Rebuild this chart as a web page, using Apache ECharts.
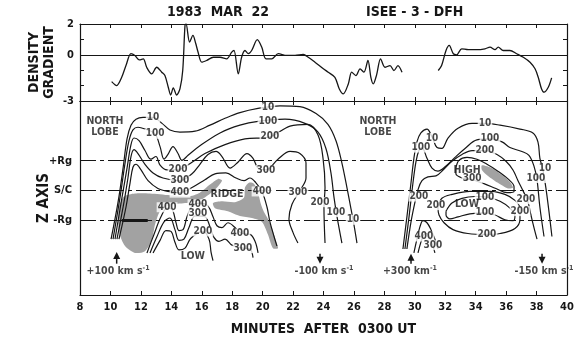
<!DOCTYPE html>
<html>
<head>
<meta charset="utf-8">
<script src="https://cdn.jsdelivr.net/npm/echarts@6/dist/echarts.min.js"></script>
<style>
  html, body { margin: 0; background: #fff; }
  #chart { width: 580px; height: 341px; }
</style>
</head>
<body>
<div id="chart"></div>
<script>
const F = "'DejaVu Sans Condensed','Liberation Sans Narrow','Roboto Condensed','DejaVu Sans',sans-serif";
const INK = '#161616';

// density gradient, two passes through the sheet  [minutes, gradient]
const gradPass1 = [
  [10.08,-1.74],[10.41,-2.00],[10.74,-1.46],[11.02,-0.70],[11.35,0.07],[11.61,-0.05],[11.90,-0.33],
  [12.16,-0.26],[12.38,-0.81],[12.71,-1.24],[13.04,-0.81],[13.37,-1.13],[13.58,-1.35],[13.80,-2.11],
  [13.96,-2.61],[14.13,-2.15],[14.35,-2.61],[14.57,-2.20],[14.75,-1.02],[14.90,1.91],[14.97,2.00],
  [15.20,0.82],[15.42,1.26],[15.60,0.75],[15.75,0.20],[16.00,-0.48],[16.32,-0.37],[16.76,-0.16],
  [17.20,-0.16],[17.64,-0.26],[17.97,0.17],[18.12,0.28],[18.40,-1.24],[18.62,-0.16],[18.84,0.28],
  [19.06,0.07],[19.28,0.28],[19.65,0.98],[19.94,0.50],[20.22,-0.26],[20.60,-0.26],[21.03,0.07],
  [21.58,-0.04],[22.13,-0.04],[22.67,0.02],[23.00,-0.16],[23.44,-0.48],[23.99,-0.91],[24.31,-1.13],
  [24.75,-1.46],[25.04,-2.22],[25.30,-2.54],[25.63,-1.89],[25.85,-1.13],[26.13,-1.35],[26.40,-0.91],
  [26.66,-1.13],[26.92,-0.37],[27.12,-1.50],[27.27,-1.89],[27.49,-1.30],[27.75,-0.26],[28.04,-0.81],
  [28.37,-0.70],[28.63,-1.02],[28.89,-0.70],[29.16,-1.13]
];
const gradPass2 = [
  [31.54,-1.02],[31.76,-0.70],[32.05,0.28],[32.26,0.61],[32.53,0.07],[32.75,0.00],[33.08,0.39],
  [33.51,0.33],[34.06,0.33],[34.61,0.39],[34.94,0.50],[35.27,0.33],[35.48,0.50],[35.81,0.28],
  [36.25,0.28],[36.69,0.07],[37.13,-0.16],[37.57,-0.48],[37.90,-0.91],[38.11,-1.46],[38.33,-2.22],
  [38.49,-2.43],[38.77,-2.11],[38.99,-1.50]
];

// Z axis reference levels in Rg
const zLevels = [1, 0, -1];
const zNames = { '1': '+Rg', '0': 'S/C', '-1': '-Rg' };
const gradLabels = [2, 0, -3];

// contours of the first crossing  [minutes, z (Rg)]
const c10a = [[10.04,-1.63],[10.50,-0.39],[10.83,0.75],[11.09,1.73],[11.35,2.19],[11.68,2.39],[12.14,2.45],[12.80,2.45],[13.39,2.25],[13.91,2.03],[14.57,1.96],[15.56,1.99],[16.54,2.19],[17.53,2.42],[18.51,2.61],[19.70,2.75],[21.14,2.84],[22.45,2.81],[23.51,2.58],[24.29,2.22],[24.82,1.67],[25.21,0.92],[25.54,0.10],[25.81,-0.62],[26.00,-1.14],[26.20,-1.76]];
const c100a = [[10.17,-1.63],[10.63,-0.23],[10.96,0.92],[11.22,1.67],[11.48,2.03],[11.81,2.12],[12.27,2.06],[12.93,1.90],[13.26,1.47],[13.52,1.05],[13.78,1.21],[14.11,1.47],[14.44,1.24],[14.70,1.01],[15.10,1.18],[15.88,1.50],[17.20,1.93],[18.51,2.19],[19.70,2.32],[21.47,2.39],[22.78,2.25],[23.64,1.96],[24.16,1.41],[24.49,0.59],[24.69,-0.23],[24.89,-0.88],[25.21,-1.76]];
const c200a = [[10.30,-1.63],[10.76,-0.23],[11.09,0.75],[11.35,1.54],[11.55,1.76],[11.88,1.67],[12.27,1.34],[12.66,1.05],[12.99,1.14],[13.26,0.85],[13.72,0.69],[14.57,0.72],[15.36,0.95],[16.21,1.24],[17.53,1.54],[18.84,1.73],[20.48,1.80],[21.80,2.16],[22.98,2.22],[23.64,1.86],[23.97,1.08],[24.10,0.10],[24.03,-0.56],[24.10,-1.76]];
const c300a = [[10.43,-1.63],[10.89,-0.39],[11.15,0.42],[11.35,1.14],[11.55,1.37],[11.81,1.24],[12.27,0.88],[12.80,0.59],[13.45,0.42],[14.57,0.33],[15.36,0.56],[15.88,0.88],[16.41,1.21],[16.94,1.31],[17.33,1.14],[17.86,0.75],[18.38,0.95],[18.97,1.24],[19.37,1.08],[19.70,0.75],[20.22,0.69],[21.01,1.05],[21.80,1.31],[22.45,1.24],[22.85,0.92],[22.85,0.42],[22.45,0.00],[21.93,-0.46],[21.73,-0.95],[22.00,-1.41],[22.32,-1.76]];
const c400a = [[10.56,-1.63],[11.02,-0.56],[11.29,0.26],[11.48,0.78],[11.68,0.88],[12.01,0.69],[12.47,0.33],[13.12,0.07],[13.78,-0.03],[14.57,-0.07],[15.36,0.10],[16.21,0.36],[16.87,0.56],[17.59,0.59],[18.25,0.42],[18.78,0.33],[19.17,0.42],[19.56,0.26],[19.96,-0.03],[20.29,-0.56],[20.48,-1.05],[20.75,-1.54],[20.94,-1.86]];
const c400low = [[12.40,-2.09],[12.86,-1.47],[13.32,-0.88],[13.72,-0.59],[14.04,-0.62],[14.31,-1.08],[14.50,-1.34],[14.77,-1.31],[15.03,-0.88],[15.36,-0.52],[15.88,-0.42],[16.41,-0.52],[16.74,-0.88],[17.00,-1.18],[17.33,-1.24],[17.72,-1.08],[18.25,-1.27],[18.64,-1.44],[19.17,-1.47],[19.50,-1.70],[19.70,-2.09]];
const c300low = [[12.60,-2.09],[13.06,-1.54],[13.52,-1.05],[13.91,-0.92],[14.24,-1.31],[14.50,-1.67],[14.83,-1.63],[15.16,-1.24],[15.56,-0.85],[16.21,-0.88],[16.54,-1.21],[16.80,-1.57],[17.13,-1.70],[17.53,-1.63],[17.99,-1.83],[18.71,-1.93],[19.17,-1.96],[19.37,-2.25]];
const c200low = [[12.80,-2.09],[13.26,-1.67],[13.65,-1.34],[13.98,-1.37],[14.24,-1.73],[14.50,-1.99],[14.90,-1.93],[15.29,-1.60],[16.08,-1.37],[16.48,-1.63],[16.61,-2.06],[16.74,-2.35]];
const rgBar = [[10.75,-1.0],[12.45,-1.0]];

// contours of the second crossing
const c10b = [[29.22,-1.96],[29.48,-0.88],[29.75,0.26],[29.94,1.08],[30.14,1.63],[30.40,1.93],[30.80,2.06],[31.13,1.80],[31.46,1.44],[31.78,1.41],[32.18,1.76],[32.84,2.09],[33.76,2.25],[34.61,2.25],[35.60,2.19],[36.91,2.06],[37.76,1.93],[38.09,1.63],[38.22,1.08],[38.42,0.69],[38.68,-0.16],[39.01,-1.54]];
const c100b = [[29.35,-1.96],[29.62,-0.88],[29.88,0.26],[30.08,0.98],[30.27,1.34],[30.47,1.44],[30.80,1.08],[31.13,0.75],[31.52,0.65],[32.05,0.82],[32.64,1.11],[33.30,1.41],[34.08,1.70],[34.94,1.73],[35.73,1.63],[36.25,1.44],[37.04,1.31],[37.50,1.18],[37.83,0.82],[38.03,0.36],[38.22,-0.56],[38.49,-1.54]];
const c200b = [[29.48,-1.96],[29.75,-1.05],[30.01,-0.39],[30.21,0.03],[30.47,0.33],[30.86,0.46],[31.39,0.49],[31.92,0.72],[32.44,0.98],[33.10,1.21],[33.76,1.34],[34.61,1.34],[35.40,1.21],[35.99,0.98],[36.45,0.69],[36.78,0.33],[37.17,-0.07],[37.44,-0.39],[37.63,-0.82],[37.83,-1.24],[38.03,-1.63]];
const c300high = [[32.70,0.75],[32.90,1.01],[33.43,1.11],[34.08,1.05],[34.74,0.88],[35.46,0.65],[36.12,0.39],[36.52,0.13],[36.52,-0.03],[36.06,-0.07],[35.33,0.07],[34.54,0.23],[33.76,0.36],[33.10,0.42],[32.70,0.56],[32.70,0.75]];
const c200lowB = [[31.52,-0.56],[31.78,-0.26],[32.44,-0.13],[33.62,-0.03],[34.94,-0.03],[35.92,-0.13],[36.58,-0.33],[36.91,-0.59],[36.91,-0.95],[36.58,-1.27],[35.60,-1.44],[34.74,-1.47],[33.49,-1.44],[32.51,-1.31],[31.92,-1.08],[31.59,-0.82],[31.52,-0.56]];
const c100lowB = [[32.05,-0.69],[32.44,-0.42],[33.10,-0.26],[33.95,-0.20],[34.81,-0.23],[35.60,-0.36],[36.25,-0.59],[36.58,-0.85],[36.45,-1.01],[35.92,-0.98],[35.27,-0.82],[34.61,-0.75],[33.62,-0.78],[32.84,-0.88],[32.31,-0.95],[32.05,-0.82],[32.05,-0.69]];
const hump1 = [[29.94,-2.09],[30.14,-1.63],[30.34,-1.21],[30.54,-1.01],[30.80,-1.08],[31.06,-1.31],[31.32,-1.63],[31.52,-1.96]];
const hump2 = [[30.21,-2.09],[30.40,-1.73],[30.60,-1.47],[30.80,-1.44],[30.99,-1.60],[31.19,-1.86],[31.32,-2.09]];

// stippled regions
const shadeLobe = [[10.56,-0.56],[10.89,-0.20],[11.61,-0.10],[12.60,-0.10],[13.91,-0.16],[15.10,-0.20],[15.88,-0.07],[16.54,0.20],[17.07,0.39],[17.33,0.33],[16.80,0.00],[15.88,-0.33],[14.90,-0.42],[13.91,-0.49],[13.26,-0.69],[12.93,-1.14],[12.73,-1.63],[12.27,-2.03],[11.61,-2.09],[10.96,-1.86],[10.56,-1.37]];
const shadeRidge = [[16.74,-0.42],[17.33,-0.36],[18.18,-0.39],[18.78,-0.23],[18.84,0.10],[19.10,0.26],[19.43,0.23],[19.70,-0.07],[19.89,-0.46],[20.09,-0.72],[20.35,-0.95],[20.62,-1.27],[20.88,-1.70],[21.01,-1.93],[20.68,-1.93],[20.35,-1.47],[19.96,-1.05],[19.30,-0.92],[18.51,-0.85],[17.72,-0.69],[16.87,-0.59]];
const shadeHigh = [[34.41,0.85],[35.07,0.75],[35.73,0.52],[36.25,0.29],[36.45,0.10],[36.12,0.07],[35.46,0.26],[34.81,0.49],[34.41,0.69]];

// contour value labels [minutes, z, text]
const contourLabels = [
  [12.80,2.45,'10'],[20.35,2.78,'10'],[25.94,-0.98,'10'],
  [12.93,1.90,'100'],[20.35,2.32,'100'],[24.82,-0.72,'100'],
  [14.44,0.72,'200'],[20.48,1.80,'200'],[23.77,-0.39,'200'],
  [14.57,0.33,'300'],[20.22,0.69,'300'],[22.32,-0.07,'300'],
  [14.57,-0.07,'400'],[19.96,-0.03,'400'],
  [13.72,-0.56,'400'],[15.75,-0.46,'400'],[15.75,-0.78,'300'],[16.08,-1.37,'200'],[18.51,-1.44,'400'],[18.71,-1.93,'300'],
  [31.13,1.76,'10'],[34.61,2.25,'10'],[38.55,0.75,'10'],
  [30.40,1.44,'100'],[34.94,1.73,'100'],[37.96,0.42,'100'],
  [30.27,-0.20,'200'],[34.61,1.34,'200'],[37.30,-0.29,'200'],
  [33.76,0.39,'300'],
  [31.39,-0.49,'200'],[36.91,-0.69,'200'],[34.74,-1.47,'200'],
  [34.61,-0.23,'100'],[34.61,-0.72,'100'],
  [30.60,-1.54,'400'],[31.19,-1.83,'300']
];
const regionNames = [
  [9.64,2.12,'NORTH\nLOBE'],[27.58,2.12,'NORTH\nLOBE'],[17.66,-0.13,'RIDGE'],
  [15.42,-2.19,'LOW'],[33.43,0.69,'HIGH'],[33.43,-0.46,'LOW']
];
// flow speed markers [minutes, tail z, head z]
const arrows = [[10.41,-2.45,-2.06],[23.77,-2.12,-2.45],[29.75,-2.45,-2.12],[38.36,-2.12,-2.45]];
const speedX = [10.50, 24.03, 29.68, 38.49];
const speedText = ['+100 km s', '-100 km s', '+300 km', '-150 km s'];
const speedZ = -2.71;

const chart = echarts.init(document.getElementById('chart'));

function axisX(grid, pos, labels) {
  return {
    type: 'value', gridIndex: grid, position: pos, min: 8, max: 40, interval: 2,
    axisLine: { show: true, onZero: false, lineStyle: { color: INK, width: 1.2 } },
    axisTick: { show: true, inside: true, length: 4, lineStyle: { color: INK } },
    axisLabel: { show: labels, color: INK, fontFamily: F, fontSize: 11, fontWeight: 'bold', margin: 7 },
    splitLine: { show: false }
  };
}

function contour(data, w) {
  return {
    type: 'line', xAxisIndex: 2, yAxisIndex: 2, data: data, smooth: 0.35,
    symbol: 'none', silent: true, z: 3,
    lineStyle: { color: INK, width: w || 1.2 }
  };
}

function shade(points) {
  return {
    type: 'custom', xAxisIndex: 2, yAxisIndex: 2, silent: true, z: 1,
    data: [0],
    renderItem: function (params, api) {
      return {
        type: 'polygon',
        shape: { points: points.map(p => api.coord(p)), smooth: 0.25 },
        style: { fill: '#a2a2a2' }
      };
    }
  };
}

const textSeries = (items, style) => ({
  type: 'scatter', xAxisIndex: 2, yAxisIndex: 2, silent: true, z: 6,
  symbolSize: 1, itemStyle: { color: 'transparent' },
  data: items.map(d => ({ name: d[2], value: [d[0], d[1]] })),
  label: Object.assign({
    show: true, position: 'inside', formatter: '{b}', color: INK,
    fontFamily: F, fontWeight: 'bold'
  }, style)
});

const contourLines = [c10a, c100a, c200a, c300a, c400a, c400low, c300low, c200low,
  c10b, c100b, c200b, c300high, c200lowB, c100lowB, hump1, hump2].map(d => contour(d));
contourLines[0].markLine = {
  silent: true, symbol: 'none', label: { show: false },
  lineStyle: { color: INK, width: 1, type: [16, 4, 4, 4] },
  data: zLevels.map(v => ({ yAxis: v }))
};

chart.setOption({
  animation: false,
  backgroundColor: '#fff',
  textStyle: { fontFamily: F },
  graphic: [
    { type: 'text', left: 167, top: 5, style: { text: '1983  MAR  22', font: "bold 14px " + F, fill: INK } },
    { type: 'text', left: 366, top: 5, style: { text: 'ISEE - 3 - DFH', font: "bold 14px " + F, fill: INK } }
  ],
  grid: [
    { left: 80, right: 13, top: 24, height: 77 },
    { left: 80, right: 13, top: 101, height: 199 }
  ],
  xAxis: [
    axisX(0, 'bottom', false),
    axisX(0, 'top', false),
    Object.assign(axisX(1, 'bottom', true), {
      name: 'MINUTES  AFTER  0300 UT', nameLocation: 'middle', nameGap: 27,
      nameTextStyle: { color: INK, fontFamily: F, fontSize: 14, fontWeight: 'bold' }
    }),
    axisX(1, 'top', false)
  ],
  yAxis: [
    {
      type: 'value', gridIndex: 0, min: -3, max: 2, interval: 1,
      name: 'DENSITY\nGRADIENT', nameLocation: 'middle', nameGap: 23, nameRotate: 90,
      nameMoveOverlap: false,
      nameTextStyle: { color: INK, fontFamily: F, fontSize: 14, fontWeight: 'bold', lineHeight: 15 },
      axisLine: { show: true, lineStyle: { color: INK, width: 1.2 } },
      axisTick: { show: true, inside: true, length: 4, lineStyle: { color: INK } },
      axisLabel: { color: INK, fontFamily: F, fontSize: 11, fontWeight: 'bold', margin: 6,
        formatter: v => gradLabels.indexOf(v) >= 0 ? String(v) : '' },
      splitLine: { show: false }
    },
    {
      type: 'value', gridIndex: 0, position: 'right', min: -3, max: 2, interval: 1,
      axisLine: { show: true, lineStyle: { color: INK, width: 1.2 } },
      axisTick: { show: true, inside: true, length: 4, lineStyle: { color: INK } },
      axisLabel: { show: false }, splitLine: { show: false }
    },
    {
      type: 'value', gridIndex: 1, min: -3.5, max: 3, interval: 0.5,
      name: 'Z AXIS', nameLocation: 'middle', nameGap: 28, nameRotate: 90,
      nameMoveOverlap: false,
      nameTextStyle: { color: INK, fontFamily: F, fontSize: 15, fontWeight: 'bold' },
      axisLine: { show: true, lineStyle: { color: INK, width: 1.2 } },
      axisTick: { show: false },
      axisLabel: { color: INK, fontFamily: F, fontSize: 11, fontWeight: 'bold', margin: 8,
        formatter: v => zNames[String(v)] || '' },
      splitLine: { show: false }
    },
    {
      type: 'value', gridIndex: 1, position: 'right', min: -3.5, max: 3,
      axisLine: { show: true, lineStyle: { color: INK, width: 1.2 } },
      axisTick: { show: false }, axisLabel: { show: false }, splitLine: { show: false }
    }
  ],
  series: [
    {
      type: 'line', xAxisIndex: 0, yAxisIndex: 0, data: gradPass1, smooth: 0.3,
      symbol: 'none', silent: true, lineStyle: { color: INK, width: 1.3 },
      markLine: { silent: true, symbol: 'none', label: { show: false },
        lineStyle: { color: INK, width: 1, type: 'solid' }, data: [{ yAxis: 0 }] }
    },
    {
      type: 'line', xAxisIndex: 0, yAxisIndex: 0, data: gradPass2, smooth: 0.3,
      symbol: 'none', silent: true, lineStyle: { color: INK, width: 1.3 }
    },
    shade(shadeLobe), shade(shadeRidge), shade(shadeHigh),
    ...contourLines,
    { type: 'line', xAxisIndex: 2, yAxisIndex: 2, data: rgBar, symbol: 'none', silent: true, z: 3,
      lineStyle: { color: INK, width: 3 } },
    {
      type: 'custom', xAxisIndex: 2, yAxisIndex: 2, silent: true, z: 4,
      data: arrows,
      renderItem: function (params, api) {
        const a = api.coord([api.value(0), api.value(1)]);
        const b = api.coord([api.value(0), api.value(2)]);
        const d = b[1] < a[1] ? -1 : 1;
        return {
          type: 'group',
          children: [
            { type: 'line', shape: { x1: a[0], y1: a[1], x2: b[0], y2: b[1] - d * 5 }, style: { stroke: INK, lineWidth: 1.5 } },
            { type: 'polygon', shape: { points: [[b[0], b[1]], [b[0] - 3.5, b[1] - d * 7], [b[0] + 3.5, b[1] - d * 7]] }, style: { fill: INK } }
          ]
        };
      }
    },
    textSeries(contourLabels, { fontSize: 10, backgroundColor: '#fff', padding: [0, 1], lineHeight: 10 }),
    textSeries(regionNames, { fontSize: 10.5, lineHeight: 11 }),
    {
      type: 'scatter', xAxisIndex: 2, yAxisIndex: 2, silent: true, z: 6,
      symbolSize: 1, itemStyle: { color: 'transparent' },
      data: speedX.map((x, i) => ({ name: speedText[i], value: [x, speedZ] })),
      label: {
        show: true, position: 'inside', color: INK, fontFamily: F,
        formatter: p => '{a|' + p.name + '}{s|-1}',
        rich: {
          a: { fontSize: 10.5, fontWeight: 'bold', fontFamily: F, color: INK, lineHeight: 14 },
          s: { fontSize: 7, fontWeight: 'bold', fontFamily: F, color: INK, lineHeight: 8, verticalAlign: 'top' }
        }
      }
    }
  ]
});
</script>
</body>
</html>
